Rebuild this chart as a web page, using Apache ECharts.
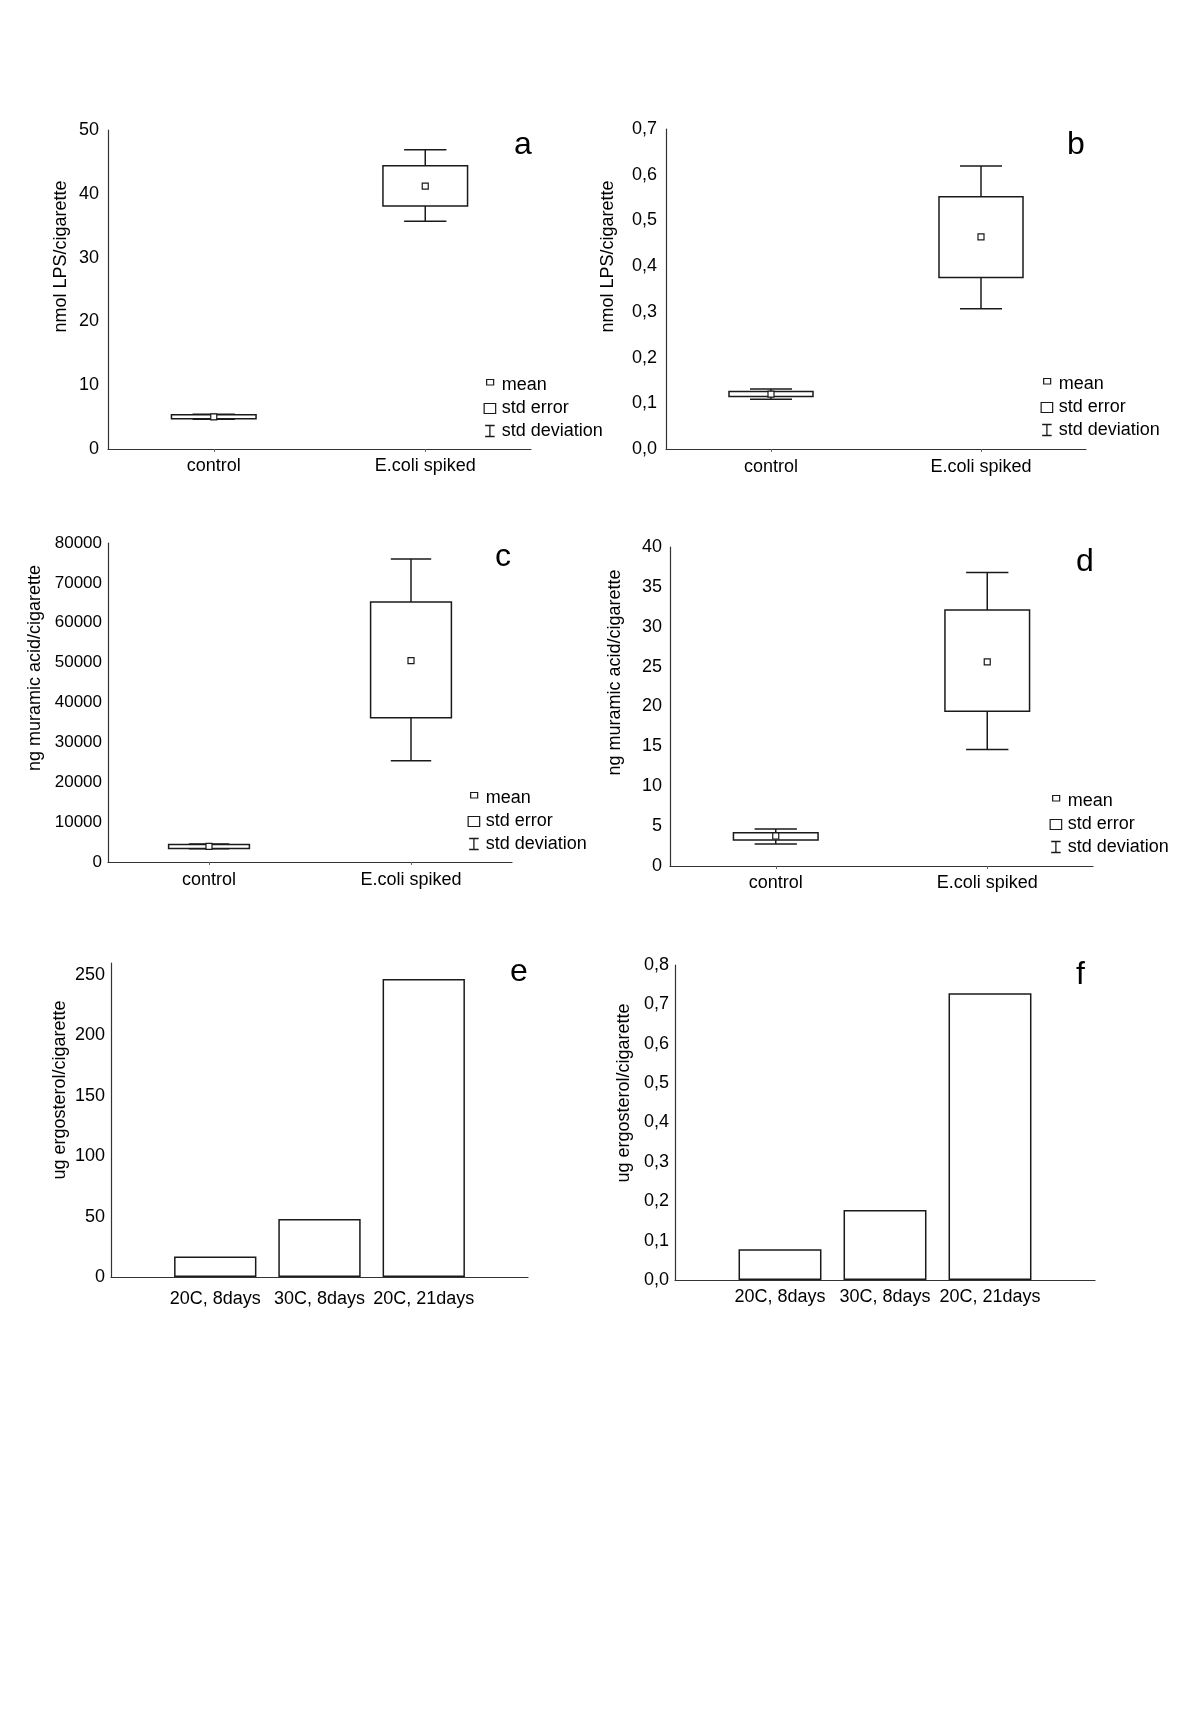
<!DOCTYPE html>
<html>
<head>
<meta charset="utf-8">
<script src="https://cdn.jsdelivr.net/npm/echarts@6/dist/echarts.min.js"></script>
<style>
html,body{margin:0;padding:0;background:#fff;}
#chart{width:1200px;height:1730px;}
</style>
</head>
<body>
<div id="chart"></div>
<script>
// ---------- data ----------
const catsBox = ['control', 'E.coli spiked'];
const catsBar = ['20C, 8days', '30C, 8days', '20C, 21days'];
const panelLetters = ['a', 'b', 'c', 'd', 'e', 'f'];
const yNames = ['nmol LPS/cigarette', 'nmol LPS/cigarette', 'ng muramic acid/cigarette', 'ng muramic acid/cigarette', 'ug ergosterol/cigarette', 'ug ergosterol/cigarette'];
const legendNames = ['mean', 'std error', 'std deviation'];

// panel a
const meanA = [5.05, 41.2];
const seLowA = [4.75, 38.1];
const seHighA = [5.35, 44.4];
const sdLowA = [4.65, 35.7];
const sdHighA = [5.45, 46.9];
const ticksA = ['0', '10', '20', '30', '40', '50'];

// panel b
const meanB = [0.120, 0.464];
const seLowB = [0.115, 0.375];
const seHighB = [0.126, 0.552];
const sdLowB = [0.109, 0.307];
const sdHighB = [0.131, 0.619];
const ticksB = ['0,0', '0,1', '0,2', '0,3', '0,4', '0,5', '0,6', '0,7'];

// panel c
const meanC = [3900, 50500];
const seLowC = [3400, 36200];
const seHighC = [4400, 65200];
const sdLowC = [3300, 25400];
const sdHighC = [4500, 76000];
const ticksC = ['0', '10000', '20000', '30000', '40000', '50000', '60000', '70000', '80000'];

// panel d
const meanD = [3.76, 25.6];
const seLowD = [3.26, 19.4];
const seHighD = [4.17, 32.1];
const sdLowD = [2.76, 14.6];
const sdHighD = [4.64, 36.8];
const ticksD = ['0', '5', '10', '15', '20', '25', '30', '35', '40'];

// panel e
const valsE = [17.0, 48.1, 246.7];
const ticksE = ['0', '50', '100', '150', '200', '250'];

// panel f
const valsF = [0.078, 0.178, 0.728];
const ticksF = ['0,0', '0,1', '0,2', '0,3', '0,4', '0,5', '0,6', '0,7', '0,8'];

// ---------- styling / layout ----------
const FONT = 'Liberation Sans, Arial, Helvetica, sans-serif';
const INK = '#1a1a1a';
const AX = '#333';

const grids = [
  {left: 108, top: 130, width: 423, height: 319},
  {left: 666, top: 129, width: 420, height: 320},
  {left: 108, top: 543, width: 404, height: 319},
  {left: 670, top: 547, width: 423, height: 319},
  {left: 111, top: 963, width: 417, height: 314},
  {left: 675, top: 965, width: 420, height: 315}
];
const yCfg = [
  {max: 50, step: 10, ticks: ticksA, margin: 9, gap: 38, shift: 66, fs: 18},
  {max: 0.7, step: 0.1, ticks: ticksB, margin: 9, gap: 49, shift: 65, fs: 18},
  {max: 80000, step: 10000, ticks: ticksC, margin: 6, gap: 64, shift: 69, fs: 17},
  {max: 40, step: 5, ticks: ticksD, margin: 8, gap: 46, shift: 68, fs: 18},
  {max: 260, step: 50, ticks: ticksE, margin: 6, gap: 42, shift: 60, fs: 18},
  {max: 0.8, step: 0.1, ticks: ticksF, margin: 6, gap: 42, shift: 59, fs: 18}
];
const xMargins = [8, 9, 9, 8, 13, 8];
const letterPos = [
  {left: 514, top: 129}, {left: 1067, top: 129},
  {left: 495, top: 541}, {left: 1076, top: 546},
  {left: 510, top: 956}, {left: 1076, top: 959}
];
const legendPos = [
  {left: 483, top: 376}, {left: 1040, top: 375},
  {left: 467, top: 789}, {left: 1049, top: 792}
];

function tickFormatter(cfg) {
  return function (v) {
    const i = Math.round(v / cfg.step);
    return Math.abs(v - i * cfg.step) < cfg.step * 1e-6 ? (cfg.ticks[i] || '') : '';
  };
}

const boxPanels = [
  {mean: meanA, seLow: seLowA, seHigh: seHighA, sdLow: sdLowA, sdHigh: sdHighA},
  {mean: meanB, seLow: seLowB, seHigh: seHighB, sdLow: sdLowB, sdHigh: sdHighB},
  {mean: meanC, seLow: seLowC, seHigh: seHighC, sdLow: sdLowC, sdHigh: sdHighC},
  {mean: meanD, seLow: seLowD, seHigh: seHighD, sdLow: sdLowD, sdHigh: sdHighD}
];
const barPanels = [valsE, valsF];

function renderBox(params, api) {
  const x = api.value(0);
  const lo = api.coord([x, api.value(1)]);
  const hi = api.coord([x, api.value(2)]);
  const bw = api.size([1, 0])[0] * 0.4;
  return {
    type: 'rect',
    shape: {x: lo[0] - bw / 2, y: hi[1], width: bw, height: lo[1] - hi[1]},
    style: {fill: '#fff', stroke: INK, lineWidth: 1.5}
  };
}
function renderWhisker(params, api) {
  const x = api.value(0);
  const p = [1, 2, 3, 4].map(i => api.coord([x, api.value(i)]));
  const cw = api.size([1, 0])[0] * 0.2;
  const cx = p[0][0];
  const st = {stroke: INK, lineWidth: 1.5};
  return {
    type: 'group',
    children: [
      {type: 'line', shape: {x1: cx, y1: p[0][1], x2: cx, y2: p[1][1]}, style: st},
      {type: 'line', shape: {x1: cx, y1: p[2][1], x2: cx, y2: p[3][1]}, style: st},
      {type: 'line', shape: {x1: cx - cw / 2, y1: p[0][1], x2: cx + cw / 2, y2: p[0][1]}, style: st},
      {type: 'line', shape: {x1: cx - cw / 2, y1: p[3][1], x2: cx + cw / 2, y2: p[3][1]}, style: st}
    ]
  };
}

const xAxes = [], yAxes = [], series = [], titles = [], legends = [];

for (let k = 0; k < 6; k++) {
  const isBar = k >= 4;
  const cfg = yCfg[k];
  xAxes.push({
    type: 'category',
    gridIndex: k,
    data: isBar ? [''].concat(catsBar, ['']) : catsBox,
    boundaryGap: !isBar,
    axisLine: {show: true, lineStyle: {color: AX, width: 1.2}},
    axisTick: {show: !isBar, alignWithLabel: true, length: 3, lineStyle: {color: '#666'}},
    axisLabel: {color: '#000', fontSize: 18, fontFamily: FONT, margin: xMargins[k], interval: 0},
    splitLine: {show: false}
  });
  yAxes.push({
    type: 'value',
    gridIndex: k,
    min: 0,
    max: cfg.max,
    interval: cfg.step,
    name: yNames[k],
    nameLocation: 'middle',
    nameGap: cfg.gap,
    nameTextStyle: {color: '#000', fontSize: 18, fontFamily: FONT, padding: [0, 0, 0, cfg.shift]},
    axisLine: {show: true, lineStyle: {color: AX, width: 1.2}},
    axisTick: {show: false},
    axisLabel: {color: '#000', fontSize: cfg.fs, fontFamily: FONT, margin: cfg.margin,
      formatter: tickFormatter(cfg), showMaxLabel: !isBar || k === 5},
    splitLine: {show: false}
  });
  titles.push({
    text: panelLetters[k],
    left: letterPos[k].left,
    top: letterPos[k].top,
    padding: 0,
    textStyle: {color: '#000', fontSize: 32, fontWeight: 'normal', fontFamily: FONT}
  });
  if (!isBar) {
    const P = boxPanels[k];
    series.push({
      name: 'std deviation',
      type: 'custom',
      xAxisIndex: k, yAxisIndex: k,
      renderItem: renderWhisker,
      itemStyle: {color: '#fff', borderColor: INK},
      encode: {x: 0, y: [1, 2, 3, 4]},
      data: catsBox.map((c, i) => [i, P.sdLow[i], P.seLow[i], P.seHigh[i], P.sdHigh[i]]),
      z: 2
    });
    series.push({
      name: 'std error',
      type: 'custom',
      xAxisIndex: k, yAxisIndex: k,
      renderItem: renderBox,
      itemStyle: {color: '#fff', borderColor: INK},
      encode: {x: 0, y: [1, 2]},
      data: catsBox.map((c, i) => [i, P.seLow[i], P.seHigh[i]]),
      z: 3
    });
    series.push({
      name: 'mean',
      type: 'scatter',
      xAxisIndex: k, yAxisIndex: k,
      symbol: 'rect',
      symbolSize: 6,
      itemStyle: {color: '#fff', borderColor: INK, borderWidth: 1.2, opacity: 1},
      data: catsBox.map((c, i) => [i, P.mean[i]]),
      z: 4
    });
    legends.push({
      orient: 'vertical',
      left: legendPos[k].left,
      top: legendPos[k].top,
      padding: 0,
      itemWidth: 13,
      itemHeight: 12,
      itemGap: 5,
      textStyle: {color: '#000', fontSize: 18, fontFamily: FONT},
      data: [
        {name: 'mean', icon: 'path://M3,0.5H10V6H3Z M0,0 M13,12',
          itemStyle: {color: '#fff', borderColor: INK, borderWidth: 1.2}},
        {name: 'std error', icon: 'path://M0.5,1.5H12V11.5H0.5Z M0,0 M13,12',
          itemStyle: {color: '#fff', borderColor: INK, borderWidth: 1.2}},
        {name: 'std deviation', icon: 'path://M1.5,0.5H11 M6.25,0.5V11.5 M1.5,11.5H11 M0,0 M13,12',
          itemStyle: {color: '#fff', borderColor: INK, borderWidth: 1.3}}
      ]
    });
  } else {
    const vals = barPanels[k - 4];
    series.push({
      name: 'ergosterol',
      type: 'bar',
      xAxisIndex: k, yAxisIndex: k,
      barWidth: '79%',
      itemStyle: {color: '#fff', borderColor: INK, borderWidth: 1.5},
      data: [null].concat(vals, [null])
    });
  }
}

const chart = echarts.init(document.getElementById('chart'), null, {renderer: 'canvas'});
chart.setOption({
  animation: false,
  backgroundColor: '#fff',
  textStyle: {fontFamily: FONT},
  title: titles,
  legend: legends,
  grid: grids,
  xAxis: xAxes,
  yAxis: yAxes,
  series: series
});
</script>
</body>
</html>
